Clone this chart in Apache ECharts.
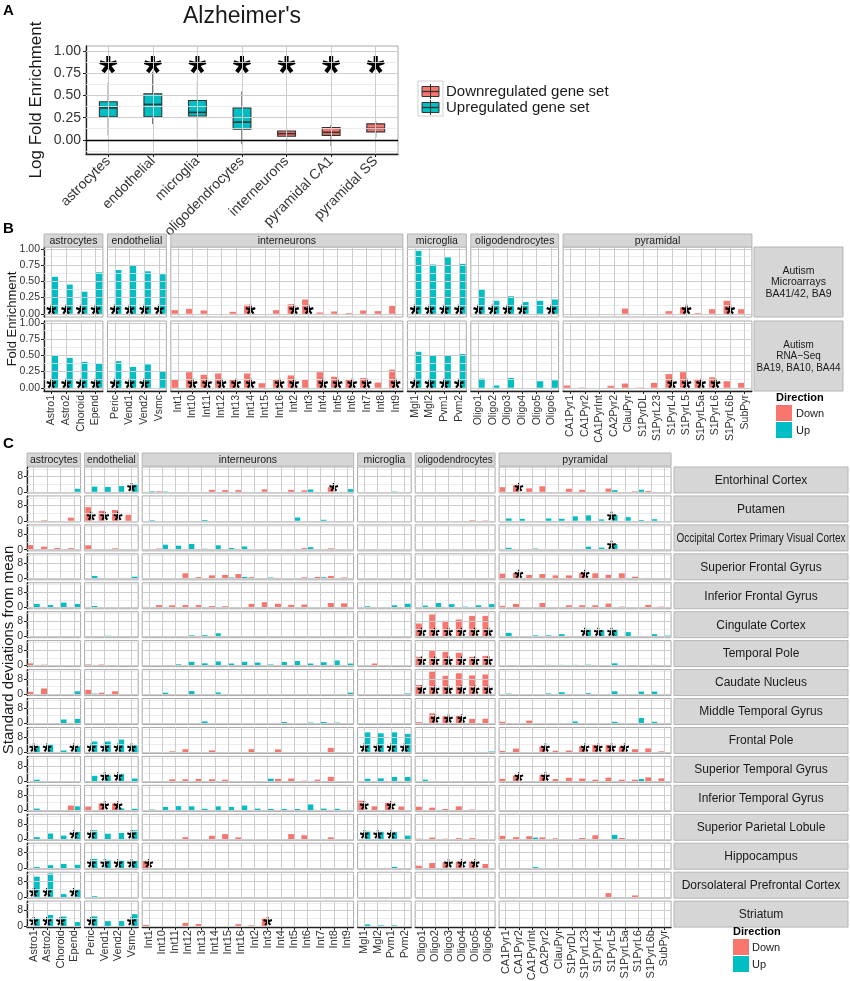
<!DOCTYPE html>
<html><head><meta charset="utf-8">
<script src="https://cdn.jsdelivr.net/npm/echarts@6/dist/echarts.min.js"></script>
<style>html,body{margin:0;padding:0;background:#fff}#c{width:850px;height:981px}</style>
</head><body><div id="c"></div>
<script>
// ---------------- DATA ----------------
const groupNames = ['astrocytes','endothelial','interneurons','microglia','oligodendrocytes','pyramidal'];
const astroTypes = ['Astro1','Astro2','Choroid','Epend'];
const endoTypes = ['Peric','Vend1','Vend2','Vsmc'];
const interTypes = ['Int1','Int10','Int11','Int12','Int13','Int14','Int15','Int16','Int2','Int3','Int4','Int5','Int6','Int7','Int8','Int9'];
const microTypes = ['Mgl1','Mgl2','Pvm1','Pvm2'];
const oligoTypes = ['Oligo1','Oligo2','Oligo3','Oligo4','Oligo5','Oligo6'];
const pyrTypes = ['CA1Pyr1','CA1Pyr2','CA1PyrInt','CA2Pyr2','ClauPyr','S1PyrDL','S1PyrL23','S1PyrL4','S1PyrL5','S1PyrL5a','S1PyrL6','S1PyrL6b','SubPyr'];
const groupTypes = [astroTypes, endoTypes, interTypes, microTypes, oligoTypes, pyrTypes];

// Panel A (Alzheimer's boxplots)
const alzCategories = ['astrocytes','endothelial','microglia','oligodendrocytes','interneurons','pyramidal CA1','pyramidal SS'];
const alzIsUp = [1,1,1,1,0,0,0];
const alzMin = [0.05,0.18,0.02,-0.05,-0.03,-0.07,0.03];
const alzQ1 = [0.26,0.26,0.27,0.12,0.04,0.05,0.09];
const alzMedian = [0.36,0.40,0.31,0.20,0.07,0.085,0.13];
const alzQ3 = [0.43,0.52,0.445,0.36,0.10,0.14,0.18];
const alzMax = [0.65,0.77,0.66,0.55,0.14,0.17,0.21];
const alzStars = ['astrocytes','endothelial','microglia','oligodendrocytes','interneurons','pyramidal CA1','pyramidal SS'];
const alzYTicks = [0,0.25,0.5,0.75,1];
const alzLegend = ['Downregulated gene set','Upregulated gene set'];

// Panel B (Autism) — order: astro(4) | endo(4) | inter(16) | micro(4) | oligo(6) | pyr(13)
const autismDatasets = ['Autism\nMicroarrays\nBA41/42, BA9', 'Autism\nRNA\u2212Seq\nBA19, BA10, BA44'];
const microarrayDown = [0,0,0,0, 0,0,0,0, 0.056,0.076,0.05,0,0.03,0.14,0,0.056,0.147,0.22,0.02,0.035,0.01,0.05,0.04,0.12, 0,0,0,0, 0,0,0,0,0,0, 0,0,0,0,0.08,0,0,0.04,0.10,0.01,0.07,0.20,0.07];
const microarrayUp = [0.57,0.45,0.34,0.64, 0.675,0.75,0.655,0.61, 0,0,0,0,0,0,0,0,0,0,0,0,0,0,0,0, 0.97,0.76,0.87,0.77, 0.38,0.20,0.27,0.18,0.20,0.22, 0,0,0,0,0,0,0,0,0,0,0,0,0];
const microarrayStars = ['Astro1','Astro2','Choroid','Epend','Peric','Vend1','Vend2','Vsmc','Int14','Int2','Int3','Mgl1','Mgl2','Pvm1','Pvm2','Oligo1','Oligo2','Oligo3','Oligo4','Oligo6','S1PyrL5','S1PyrL6b'];
const rnaseqDown = [0,0,0,0, 0,0,0,0, 0.126,0.24,0.20,0.22,0.12,0.22,0.07,0.126,0.19,0.126,0.24,0.17,0.12,0.15,0.08,0.28, 0,0,0,0, 0,0,0,0,0,0, 0.035,0.005,0,0.03,0.065,0.005,0.075,0.21,0.24,0.13,0.16,0.10,0.075];
const rnaseqUp = [0.505,0.46,0.40,0.375, 0.41,0.32,0.36,0.25, 0,0,0,0,0,0,0,0,0,0,0,0,0,0,0,0, 0.555,0.50,0.50,0.52, 0.14,0.035,0.15,0,0.10,0.115, 0,0,0,0,0,0,0,0,0,0,0,0,0];
const rnaseqStars = ['Astro1','Astro2','Choroid','Epend','Peric','Vend1','Vend2','Int10','Int11','Int12','Int13','Int14','Int16','Int2','Int4','Int5','Int6','Int7','Int9','Mgl1','Mgl2','Pvm1','Pvm2','S1PyrL4','S1PyrL5','S1PyrL5a','S1PyrL6'];
const bYTicks = [0,0.25,0.5,0.75,1];

// Panel C (standard deviations from mean, per brain region)
const regionNames = ['Entorhinal Cortex','Putamen','Occipital Cortex Primary Visual Cortex','Superior Frontal Gyrus','Inferior Frontal Gyrus','Cingulate Cortex','Temporal Pole','Caudate Nucleus','Middle Temporal Gyrus','Frontal Pole','Superior Temporal Gyrus','Inferior Temporal Gyrus','Superior Parietal Lobule','Hippocampus','Dorsolateral Prefrontal Cortex','Striatum'];
const cYTicks = [0,8];

const entorhinalDown = [0,0,0,0, 0,0,0,0, 0,0.3,0,0,0,1.0,0.9,0.9,0,1.3,0,1.0,0.8,0,2.4,0, 0,0,0,0, 0,0,0,0,0,0, 2.4,3.4,1.8,2.9,0,1.6,1.0,0,1.7,0,0.3,0.4,0];
const entorhinalUp = [0,0,0,1.6, 2.7,2.5,3.0,4.0, 0.3,0.2,0,0,0,0,0,0,0,0,0,0,1.2,0,0,1.4, 0,0,0.2,0, 0,0,0,0,0,0, 0,0,0,0,0,0,0,0,0.9,0,1.1,0,0];
const entorhinalStars = ['Vsmc','Int8','CA1Pyr2'];

const putamenDown = [0,0.3,0,1.6, 7.1,5.2,5.6,3.1, 0,0,0,0,0,0,0,0,0,0,0,0,0,0,0,0, 0,0,0,0, 0,0,0,0,0.3,0.2, 0,0,0,0,0,0,0,0,0,0,0,0,0];
const putamenUp = [0,0,0,0, 0,0,0,0, 0.3,0,0,0,0.4,0,0,0,0,0,0,1.7,0,0.5,0,0, 0,0,0,0, 0,0,0,0,0,0, 1.2,1.0,0,1.2,1.0,2.3,2.8,0.7,3.1,1.9,0.4,0.8,0];
const putamenStars = ['Peric','Vend1','Vend2','S1PyrL5'];

const occipitalDown = [2.4,1.6,0.9,0.8, 2.3,0.2,0.7,0, 0,0.6,0,0,0,0,0,0,0,0.4,0,0,0.8,0,0.7,0, 0,0,0,0, 0,0,0,0,0,0, 0,0,0.4,0,0,0,0,0,0,0,0,0,0];
const occipitalUp = [0,0,0,0, 0,0,0,0, 0,2.6,2.1,3.0,0.5,2.3,0.9,1.7,0,0,0,0,1.3,0,0,0.3, 0,0,0,0, 0,0,0,0,0,0, 1.0,0,0.6,0,0,0,1.6,1.1,3.0,0.4,0.3,0.3,0];
const occipitalStars = ['S1PyrL5'];

const sfgDown = [0,0,0,0, 0,0,0,0, 0,0,0.3,2.8,0.8,1.7,1.9,2.4,0.7,0,0.4,0,0.7,0.9,1.4,0.6, 0,0,0,0, 0,0,0,0,0,0, 2.6,3.0,1.9,2.4,1.7,1.7,3.0,2.8,2.0,2.8,1.0,0.4,0.3];
const sfgUp = [0,0,0,0, 1.4,0,0,1.0, 0,0,0,0,0,0,0.6,0.9,0,0.6,0,0,0,0.7,0,0, 0,0,0,0, 0,0,0,0,0,0, 0,0,0,0,0,0,0,0,0,0,0,0,0];
const sfgStars = ['CA1Pyr2','S1PyrL23'];

const ifgDown = [0,0,0,0, 0,0,0,0, 0.4,1.3,1.2,1.3,1.3,0.8,0.7,0,1.9,2.8,2.0,1.4,1.6,0.3,2.4,2.2, 0,0,0,0, 0,0,0,0,0,0, 0.9,1.9,0,2.4,0,1.2,1.2,1.2,2.1,0.5,0,1.4,0.5];
const ifgUp = [1.9,1.3,2.6,1.9, 0.8,0,0,0, 0,0,0,0,0,0,0,0,0,0,0,0,0,0,0,0, 0.7,0,1.2,2.0, 1.0,2.4,1.8,0.5,1.2,1.8, 0,0,0,0,0,0,0,0,0,0,0,0,0];
const ifgStars = [];

const cingulateDown = [0,0,0,0, 0,0,0,0, 0,0,0,0,0,0,0,0,0,0,0,0,0,0,0,0, 0,0,0,0, 6.8,11.5,8.2,8.9,10.8,10.8, 0,0,0,0,0,0,0,0,0,0,0,0,0];
const cingulateUp = [0,0,0,0, 0,0.4,0,0, 0,0,0,0.6,0.7,1.7,0,0,0,0,0,0,0,0,0,0, 0.2,0,0,0, 0,0,0,0,0,0, 1.9,0,0.6,0.6,1.2,0,4.0,3.3,3.7,2.3,0,1.2,0.5];
const cingulateStars = ['Oligo1','Oligo2','Oligo3','Oligo4','Oligo5','Oligo6','S1PyrL23','S1PyrL4','S1PyrL5'];

const temporalPoleDown = [1.1,0.4,0,0, 0.5,0.5,0,0, 0,0,0,0,0,0,0,0,0,0,0,0,0,0,0,0, 0,1.0,0,0, 4.5,7.8,7.1,6.6,4.5,5.0, 0,0,0,0,0,0,0,0,0,0,0,0,0];
const temporalPoleUp = [0,0,0,0, 0,0,0,0, 0,0,0.6,1.9,1.1,2.1,1.0,1.9,1.5,0.5,1.8,2.3,1.0,1.7,2.6,1.0, 0,0,0,0, 0,0,0,0,0,0, 0,0,0,0.3,0.3,0.3,0.4,0,1.1,0,0,0.3,0];
const temporalPoleStars = ['Oligo1','Oligo2','Oligo3','Oligo4','Oligo5','Oligo6'];

const caudateDown = [1.3,3.1,0,0, 2.4,0.9,1.6,0, 0,0,0,0,0,0,0,0,0,0,0,0,0,0,0,0, 0,0,0,0, 4.9,12.2,9.7,11.0,9.9,10.4, 0,0,0,0,0,0,0,0,0,0,0,0,0];
const caudateUp = [0,0,0,1.6, 0.4,0,0,0, 0,0.9,0,1.7,0,1.0,0,0,0,0,0,0,0,0,0,0.9, 0,0,0,0.5, 0,0,0,0,0,0, 0.4,0,0,0.5,1.1,0,0.6,0,1.6,0,1.5,1.5,0];
const caudateStars = ['Oligo1','Oligo2','Oligo3','Oligo4','Oligo5','Oligo6'];

const mtgDown = [0,0,0,0, 0,0,0,0, 0,0,0,0,0,0,0,0,0,0,0,0,0,0,0,0, 0,0,0,0, 0.6,5.2,3.6,4.0,2.3,2.4, 0.8,0,1.4,0,0,0,0,0,0,0,0,0,0];
const mtgUp = [0,0,2.0,2.3, 0,0,0,0, 0,0,0,0,1.0,0,0,0,0,0,0.7,0,0.4,0.7,0.4,0, 0,0,0,0, 0,0,0,0,0,0, 0,0,0,0,0,1.0,0,0,0.8,0,2.8,0.8,0];
const mtgStars = ['Oligo2','Oligo3','Oligo4'];

const frontalPoleDown = [0,0,0,0, 0,0,0,0, 0,0,0.5,1.6,0,1.0,0,0,1.6,0,1.5,0,0,0,2.3,0, 0,0,0,0, 0,0,0,0,0,0, 0.7,1.9,0,3.1,0.8,0.9,3.1,3.8,3.8,3.0,1.6,2.0,0.5];
const frontalPoleUp = [3.3,4.0,0.9,3.1, 5.6,5.6,6.6,3.5, 0,0,0,0,0,0,0,0,0,0,0,0,0,0,0,0, 10.4,9.9,10.4,9.6, 0,0,0,0,0.2,0.4, 0,0,0,0,0,0,0,0,0,0,0,0,0];
const frontalPoleStars = ['Astro1','Astro2','Epend','Peric','Vend1','Vend2','Vsmc','Mgl1','Mgl2','Pvm1','Pvm2','CA2Pyr2','S1PyrL23','S1PyrL4','S1PyrL5','S1PyrL5a'];

const stgDown = [0,0,0,0, 0,0,0,0, 0,0,1.0,1.0,1.2,1.0,0.8,0,0,0,1.2,1.4,0.3,0.8,2.3,0, 0,0,0,0, 0,0,0,0,0,0, 1.2,3.0,0,3.3,1.1,1.8,1.4,0.8,1.9,0.8,0.8,2.0,1.5];
const stgUp = [0.8,0,0,0, 2.8,3.0,3.7,1.4, 0,0,0,0,0,0,0,0,0,1.3,0,0,0,0,0,0, 1.3,1.5,2.2,2.2, 0.8,0,0,0,0,0, 0,0,0,0,0,0,0,0,0,0,1.2,0,0];
const stgStars = ['Vend1','Vend2','CA1Pyr2','CA2Pyr2'];

const itgDown = [0,0,0,2.4, 1.9,3.5,3.5,0, 0,0,0,0,0,0,0,0,0,0,0,0,0,0,0,0, 4.9,2.0,4.0,1.9, 1.8,1.3,0.6,2.0,0.3,0, 0,0,0,0,0,0,0,0,0,0,0,0,0];
const itgUp = [0.8,0,0,2.0, 0,0,0.9,0.7, 0.3,1.7,2.1,2.0,0.7,2.0,1.7,2.4,0.8,0.6,0.6,0.6,3.0,0.8,0.7,0, 0,0,0,0, 0,0,0,0,0,0, 0,0,0,0,0,0,0,0,0,0,0,0,0];
const itgStars = ['Vend1','Vend2','Mgl1','Pvm1'];

const splDown = [0,0,0,0, 0,0,0,0, 0,0,0,1.0,0,1.7,2.6,0.9,0,0,0,2.6,2.0,0,0.9,0, 0,0,0,0, 0.2,0.8,0.2,0.5,0.5,0, 1.7,1.0,1.5,0.9,0.4,0,0.6,2.0,0,0.6,0,0,0];
const splUp = [1.0,2.9,1.8,3.8, 4.6,2.8,3.2,4.6, 0,0,0,0,0,0,0,0,0,0,0,0,0,0,0,0, 4.3,4.0,3.6,1.8, 0,0,0,0,0,0, 0,0,0.8,0,0,0,0,0,2.2,0,0,0,0];
const splStars = ['Epend','Peric','Vsmc','Mgl1','Mgl2','Pvm1'];

const hippocampusDown = [0,0,0,0, 0,0,0,0, 3.6,0,0,0,0,0,0,0,0,0,0,0,0,0,0,0, 0,0,0,0, 1.2,2.6,3.0,3.3,3.3,2.1, 0,0,0,0,0,0,0,0,0,0,0,0,0];
const hippocampusUp = [0.5,1.5,2.1,1.7, 4.7,4.3,4.0,3.7, 0,0,0,0,0,0,0,0,0,0,0,0,0,0,0,0, 0,0,0.6,0, 0,0,0,0,0,0, 0,0,0.5,0,0,0,0,0,0,0,0,0,0];
const hippocampusStars = ['Peric','Vend1','Vend2','Vsmc','Int1','Oligo3','Oligo4','Oligo5'];

const dlpfcDown = [0,0,0,0, 0,0,0,0, 0,0,0,0,0,0,0,0,0,0,0,0,0,0,0,0, 0,0,0,0, 0,0,0,0,0,0, 0,0,0,0,0,0,0,0,2.0,0,0.8,0,0];
const dlpfcUp = [10.6,12.3,1.5,4.0, 0.4,0,0,0, 0,0,0,0,0,0,0,0,0,0,0,0,0,0,0,0, 0,0,0,0, 0,0,0,0,0,0, 0,0,0,0,0,0,0,0,0,0,0,0,0];
const dlpfcStars = ['Astro1','Astro2','Epend'];

const striatumDown = [0,0,0,0, 0,0,0,0, 0.5,0,0,1.6,1.0,0,0,0.9,0.3,4.2,0,0,0,0,0,0, 0,0,0,0, 0,0,0,0,0,0, 0,0,0,0,0,0,0,0,0,0,0,0,0];
const striatumUp = [3.8,5.7,4.9,2.0, 5.0,2.5,2.5,6.1, 0,0,0,0,0,0,0,0,0,0,0,0,0,0,0,0, 0.8,0.3,0.3,0, 0,0,0,0,0,0, 0,0,0,0,0,0,0,0,0,0,0,0,0];
const striatumStars = ['Astro1','Astro2','Choroid','Peric','Vsmc','Int3'];

const regionDown = [entorhinalDown, putamenDown, occipitalDown, sfgDown, ifgDown, cingulateDown, temporalPoleDown, caudateDown, mtgDown, frontalPoleDown, stgDown, itgDown, splDown, hippocampusDown, dlpfcDown, striatumDown];
const regionUp = [entorhinalUp, putamenUp, occipitalUp, sfgUp, ifgUp, cingulateUp, temporalPoleUp, caudateUp, mtgUp, frontalPoleUp, stgUp, itgUp, splUp, hippocampusUp, dlpfcUp, striatumUp];
const regionStars = [entorhinalStars, putamenStars, occipitalStars, sfgStars, ifgStars, cingulateStars, temporalPoleStars, caudateStars, mtgStars, frontalPoleStars, stgStars, itgStars, splStars, hippocampusStars, dlpfcStars, striatumStars];

// ---------------- BUILD ----------------
const FONT = '"Liberation Sans", Arial, Helvetica, sans-serif';
const RED = '#F8766D', CYAN = '#00BFC4';
const STAR = (function () {
  const R = 50, w = 11.5, ri = w / Math.sin(36 * Math.PI / 180);
  const pts = [];
  for (let k = 0; k < 5; k++) {
    const a = (-90 + 72 * k) * Math.PI / 180, ux = Math.cos(a), uy = Math.sin(a), nx = -uy, ny = ux;
    pts.push([R * ux - w * nx, R * uy - w * ny]);
    pts.push([R * ux + w * nx, R * uy + w * ny]);
    const b = a + 36 * Math.PI / 180;
    pts.push([ri * Math.cos(b), ri * Math.sin(b)]);
  }
  return 'path://M' + pts.map(p => (p[0] + 50).toFixed(2) + ' ' + (p[1] + 50).toFixed(2)).join(' L') + ' Z';
})();
const measureCtx = document.createElement('canvas').getContext('2d');
function textWidth(t, size) {
  measureCtx.font = size + 'px "Liberation Sans", Arial, sans-serif';
  return Math.max.apply(null, t.split('\n').map(s => measureCtx.measureText(s).width));
}

const grids = [], xAxes = [], yAxes = [], series = [], graphics = [];
const groupStart = []; { let s = 0; groupTypes.forEach(t => { groupStart.push(s); s += t.length; }); }
function seg(arr, g) { return arr.slice(groupStart[g], groupStart[g] + groupTypes[g].length); }

function addPanel(p) {
  const i = grids.length;
  grids.push({left: p.x, top: p.y, width: p.w, height: p.h, show: true, backgroundColor: '#ffffff',
    borderColor: '#a9a9a9', borderWidth: 1, containLabel: false, outerBoundsMode: 'none'});
  xAxes.push({type: 'category', gridIndex: i, data: p.cats, boundaryGap: true,
    axisLine: {show: !!p.showX, onZero: false, lineStyle: {color: '#222', width: 1.3}},
    axisTick: {show: !!p.showX, alignWithLabel: true, length: 3, lineStyle: {color: '#222'}},
    axisLabel: {show: !!p.showX, interval: 0, rotate: p.xRotate || 0, fontSize: p.xFont || 10, color: '#333', fontFamily: FONT, margin: p.xMargin || 3},
    splitLine: {show: false}});
  yAxes.push({type: 'value', gridIndex: i, min: p.yMin, max: p.yMax,
    axisLine: {show: !!p.showY, lineStyle: {color: '#222', width: 1.3}},
    axisTick: {show: !!p.showY, length: 3, customValues: p.yTicks, lineStyle: {color: '#222'}},
    axisLabel: {show: !!p.showY, customValues: p.yTicks, formatter: p.yFmt, fontSize: p.yFont || 10, color: '#333', fontFamily: FONT, margin: p.yMargin || 3},
    splitLine: {show: false}});
  const ml = [];
  (p.yMinor || []).forEach(v => ml.push({yAxis: v, lineStyle: {color: '#e8e8e8', width: 0.8, type: 'solid'}}));
  (p.yMajor || []).forEach(v => ml.push({yAxis: v, lineStyle: {color: '#cdcdcd', width: 1, type: 'solid'}}));
  p.cats.forEach(c => ml.push({xAxis: c, lineStyle: {color: '#cdcdcd', width: 1, type: 'solid'}}));
  (p.extraLines || []).forEach(l => ml.push(l));
  series.push({type: 'line', xAxisIndex: i, yAxisIndex: i, data: [], silent: true, z: 1, symbol: 'none',
    markLine: {silent: true, symbol: ['none', 'none'], label: {show: false}, emphasis: {disabled: true}, animation: false, data: ml}});
  return i;
}
function addBars(i, cats, down, up, stars, starY, starSize) {
  const common = {type: 'bar', xAxisIndex: i, yAxisIndex: i, barGap: '0%', barCategoryGap: '10%', silent: true, z: 2, animation: false};
  series.push(Object.assign({}, common, {name: 'Down', data: down, itemStyle: {color: RED}}));
  series.push(Object.assign({}, common, {name: 'Up', data: up, itemStyle: {color: CYAN}}));
  const st = stars.filter(c => cats.includes(c));
  if (st.length) series.push({type: 'scatter', xAxisIndex: i, yAxisIndex: i, data: st.map(c => [c, starY]),
    symbol: STAR, symbolSize: starSize, symbolKeepAspect: true, itemStyle: {color: '#000', borderWidth: 0, opacity: 1}, silent: true, z: 3, animation: false});
}
function txt(x, y, text, size, opts) {
  graphics.push(Object.assign({type: 'text', x: x, y: y, silent: true, z: 100,
    style: Object.assign({text: text, fill: '#1a1a1a', fontSize: size, fontFamily: FONT, align: 'left', verticalAlign: 'middle'}, (opts && opts.style) || {})},
    (opts && opts.el) || {}));
}
function rect(x, y, w, h, fill, stroke, lw) {
  graphics.push({type: 'rect', silent: true, z: 90, shape: {x: x, y: y, width: w, height: h}, style: {fill: fill, stroke: stroke || null, lineWidth: lw || 1}});
}
function strip(x, y, w, h, text, size, lh) {
  rect(x, y, w, h, '#d6d6d6', '#b5b5b5', 1);
  const sx = Math.min(1, (w - 5) / textWidth(text, size));
  txt(x + w / 2, y + h / 2 + 0.5, text, size, {style: {align: 'center', fill: '#1a1a1a', lineHeight: lh || size + 1}, el: {scaleX: sx}});
}
function columns(x0, unit, pad, gap) {
  const cols = []; let x = x0;
  groupTypes.forEach(t => { const w = t.length * unit + pad; cols.push({x: x, w: w}); x += w + gap; });
  return cols;
}

// ---------- Panel A ----------
txt(3, 11, 'A', 15, {style: {fontWeight: 'bold', fill: '#000'}});
txt(242, 17, "Alzheimer's", 23, {style: {align: 'center'}});
const aIdx = addPanel({x: 86, y: 46, w: 312, h: 108, cats: alzCategories, yMin: -0.16, yMax: 1.06,
  showX: true, showY: true, xRotate: 45, xFont: 14, yFont: 14, yTicks: alzYTicks, yFmt: v => v.toFixed(2),
  yMajor: alzYTicks, yMinor: [-0.125, 0.125, 0.375, 0.625, 0.875], xMargin: 5, yMargin: 5,
  extraLines: [{yAxis: 0, lineStyle: {color: '#000', width: 1.3, type: 'solid'}}]});
series.push({type: 'custom', xAxisIndex: aIdx, yAxisIndex: aIdx, z: 2, silent: true, animation: false,
  encode: {x: 0, y: [1, 2, 3, 4, 5]},
  data: alzCategories.map((c, k) => [k, alzMin[k], alzQ1[k], alzMedian[k], alzQ3[k], alzMax[k], alzIsUp[k]]),
  renderItem: function (params, api) {
    const xi = api.value(0);
    const c = v => api.coord([xi, v]);
    const bw = api.size([1, 0])[0] * 0.4;
    const pMin = c(api.value(1)), pQ1 = c(api.value(2)), pMed = c(api.value(3)), pQ3 = c(api.value(4)), pMax = c(api.value(5));
    const x = pMed[0];
    const col = api.value(6) ? CYAN : RED;
    return {type: 'group', children: [
      {type: 'line', shape: {x1: x, y1: pMax[1], x2: x, y2: pQ3[1]}, style: {stroke: '#333', lineWidth: 1.1}},
      {type: 'line', shape: {x1: x, y1: pQ1[1], x2: x, y2: pMin[1]}, style: {stroke: '#333', lineWidth: 1.1}},
      {type: 'rect', shape: {x: x - bw / 2, y: pQ3[1], width: bw, height: pQ1[1] - pQ3[1]}, style: {fill: col, stroke: '#333', lineWidth: 1.1}},
      {type: 'line', shape: {x1: x - bw / 2, y1: pMed[1], x2: x + bw / 2, y2: pMed[1]}, style: {stroke: '#333', lineWidth: 1.6}}
    ]};
  }});
series.push({type: 'scatter', xAxisIndex: aIdx, yAxisIndex: aIdx, data: alzStars.map(c => [c, 0.85]), symbol: STAR, symbolSize: 18,
  symbolKeepAspect: true, itemStyle: {color: '#000', borderWidth: 0, opacity: 1}, silent: true, z: 3, animation: false});
txt(36, 100, 'Log Fold Enrichment', 17, {style: {align: 'center'}, el: {rotation: Math.PI / 2}});
// legend A
rect(418, 81, 25, 35, '#ffffff', '#cfcfcf', 1);
[[91.5, RED], [107.5, CYAN]].forEach((k, j) => {
  const cy = k[0];
  graphics.push({type: 'line', silent: true, z: 95, shape: {x1: 430.5, y1: cy - 7.5, x2: 430.5, y2: cy + 7.5}, style: {stroke: '#333', lineWidth: 1}});
  rect(422, cy - 5, 17, 10, k[1], '#333', 1);
  graphics.push({type: 'line', silent: true, z: 96, shape: {x1: 422, y1: cy, x2: 439, y2: cy}, style: {stroke: '#333', lineWidth: 1.4}});
  txt(446, cy, alzLegend[j], 15);
});

// ---------- Panel B ----------
txt(3, 229, 'B', 15, {style: {fontWeight: 'bold', fill: '#000'}});
const bCols = columns(44, 14.43, 1.2, 4.5);
const bRowTop = [247, 321], bRowH = 70;
const bDown = [microarrayDown, rnaseqDown], bUp = [microarrayUp, rnaseqUp], bStars = [microarrayStars, rnaseqStars];
bCols.forEach((col, g) => strip(col.x, 234, col.w, 13, groupNames[g], 10.5));
for (let r = 0; r < 2; r++) {
  bCols.forEach((col, g) => {
    const cats = groupTypes[g];
    const i = addPanel({x: col.x, y: bRowTop[r], w: col.w, h: bRowH, cats: cats, yMin: -0.05, yMax: 1.03,
      showX: r === 1, showY: g === 0, xRotate: 90, xFont: 10.5, yFont: 10.5, yTicks: bYTicks, yFmt: v => v.toFixed(2),
      yMajor: bYTicks, yMinor: [0.125, 0.375, 0.625, 0.875], xMargin: 4, yMargin: 4});
    addBars(i, cats, seg(bDown[r], g), seg(bUp[r], g), bStars[r], 0.066, 10);
  });
  strip(754, bRowTop[r], 89, bRowH, autismDatasets[r], 10.5, 11.5);
}
txt(12, 319, 'Fold Enrichment', 13, {style: {align: 'center'}, el: {rotation: Math.PI / 2}});
txt(776, 398, 'Direction', 11, {style: {fontWeight: 'bold', fill: '#000'}});
rect(776, 405, 16, 16, RED); rect(776, 422, 16, 16, CYAN);
txt(796, 413.5, 'Down', 11); txt(796, 430.5, 'Up', 11);

// ---------- Panel C ----------
txt(3, 444, 'C', 15, {style: {fontWeight: 'bold', fill: '#000'}});
const cCols = columns(27, 13.15, 1, 4);
const cTop0 = 467, cPitch = 28.94, cH = 26;
cCols.forEach((col, g) => strip(col.x, 453, col.w, 13, groupNames[g], 10.5));
regionNames.forEach((name, r) => {
  const top = cTop0 + r * cPitch;
  cCols.forEach((col, g) => {
    const cats = groupTypes[g];
    const i = addPanel({x: col.x, y: top, w: col.w, h: cH, cats: cats, yMin: -0.62, yMax: 12.95,
      showX: r === regionNames.length - 1, showY: g === 0, xRotate: 90, xFont: 11, yFont: 10.5, yTicks: cYTicks, yFmt: v => String(v),
      yMajor: cYTicks, yMinor: [4, 12], xMargin: 3, yMargin: 4});
    addBars(i, cats, seg(regionDown[r], g), seg(regionUp[r], g), regionStars[r], 2.4, 9);
  });
  strip(674, top, 174, cH, name, 12);
});
txt(9, 650, 'Standard deviations from mean', 15, {style: {align: 'center'}, el: {rotation: Math.PI / 2}});
txt(733, 932, 'Direction', 11, {style: {fontWeight: 'bold', fill: '#000'}});
rect(733, 939, 16, 16, RED); rect(733, 956, 16, 16, CYAN);
txt(752, 947.5, 'Down', 11); txt(752, 964.5, 'Up', 11);

const chart = echarts.init(document.getElementById('c'), null, {renderer: 'canvas', width: 850, height: 981});
chart.setOption({animation: false, backgroundColor: '#ffffff', grid: grids, xAxis: xAxes, yAxis: yAxes, series: series, graphic: {elements: graphics}});
</script></body></html>
